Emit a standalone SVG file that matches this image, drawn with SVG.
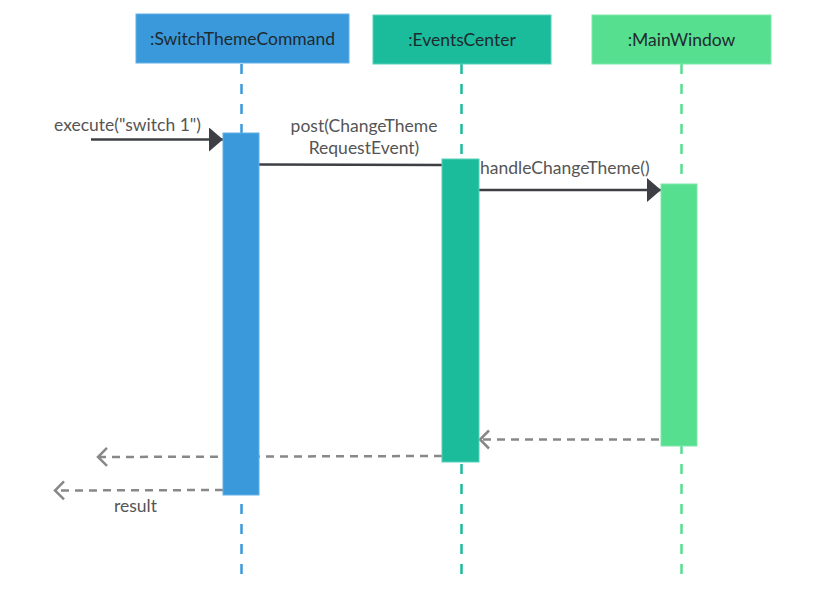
<svg xmlns="http://www.w3.org/2000/svg" width="813" height="611" viewBox="0 0 813 611">
<defs>
<style>
.hdr{font-family:Lato,"Open Sans",sans-serif;font-size:17.5px;fill:#1f2a30;text-anchor:middle}
.lbl{font-family:Lato,"Open Sans",sans-serif;font-size:17.5px;fill:#555}
.life{stroke-width:2.5;stroke-dasharray:10 10;fill:none}
.msg{stroke:#3d3f45;stroke-width:2.5;fill:none}
.ret{stroke:#888;stroke-width:2.5;stroke-dasharray:8 6;fill:none}
</style>
<marker id="filled" markerWidth="14" markerHeight="24" refX="14" refY="12" orient="auto" markerUnits="userSpaceOnUse">
<path d="M0,0 L14,12 L0,24 Z" fill="#3d3f45"/>
</marker>
<marker id="open" markerWidth="14" markerHeight="22" refX="11" refY="11" orient="auto" markerUnits="userSpaceOnUse">
<path d="M2,2 L11,11 L2,20" fill="none" stroke="#888" stroke-width="2.5"/>
</marker>
</defs>
<rect width="813" height="611" fill="#fff"/>
<g id="lifelines">
<line class="life" x1="241.5" y1="64" x2="241.5" y2="580" stroke="#3a99db"/>
<line class="life" x1="461.5" y1="64" x2="461.5" y2="580" stroke="#1bbc9b"/>
<line class="life" x1="681.5" y1="64" x2="681.5" y2="580" stroke="#55df8e"/>
</g>
<g id="SwitchThemeCommand">
<rect x="136" y="14" width="213" height="49" fill="#3a99db" stroke="#62b0e6" stroke-width="1"/>
<text class="hdr" x="242.5" y="45">:SwitchThemeCommand</text>
</g>
<g id="EventsCenter">
<rect x="373" y="15" width="178" height="49" fill="#1bbc9b" stroke="#5bd0b8" stroke-width="1"/>
<text class="hdr" x="462" y="46">:EventsCenter</text>
</g>
<g id="MainWindow">
<rect x="592" y="15" width="179" height="49" fill="#55df8e" stroke="#80e8ac" stroke-width="1"/>
<text class="hdr" x="681.5" y="46">:MainWindow</text>
</g>
<g id="connectors">
<line class="msg" x1="91" y1="139.5" x2="223" y2="139.5" marker-end="url(#filled)"/>
<line class="msg" x1="259" y1="164.5" x2="442" y2="165"/>
<line class="msg" x1="479" y1="190" x2="661" y2="190" marker-end="url(#filled)"/>
<line class="ret" x1="659" y1="439.5" x2="480" y2="439.5" marker-end="url(#open)"/>
<line class="ret" x1="442" y1="456" x2="98" y2="457" marker-end="url(#open)"/>
<line class="ret" x1="223" y1="490" x2="55" y2="490.5" marker-end="url(#open)"/>
</g>
<g id="activations">
<rect x="223" y="133" width="36" height="362" fill="#3a99db" stroke="#62b0e6" stroke-width="1"/>
<rect x="442" y="159" width="37" height="303" fill="#1bbc9b" stroke="#5bd0b8" stroke-width="1"/>
<rect x="661" y="184" width="36" height="262" fill="#55df8e" stroke="#80e8ac" stroke-width="1"/>
</g>
<g id="labels">
<text class="lbl" x="54" y="131">execute("switch 1")</text>
<text class="lbl" x="364" y="132" text-anchor="middle">post(ChangeTheme</text>
<text class="lbl" x="364" y="154" text-anchor="middle">RequestEvent)</text>
<text class="lbl" x="480" y="174">handleChangeTheme()</text>
<text class="lbl" x="114" y="512">result</text>
</g>
</svg>
